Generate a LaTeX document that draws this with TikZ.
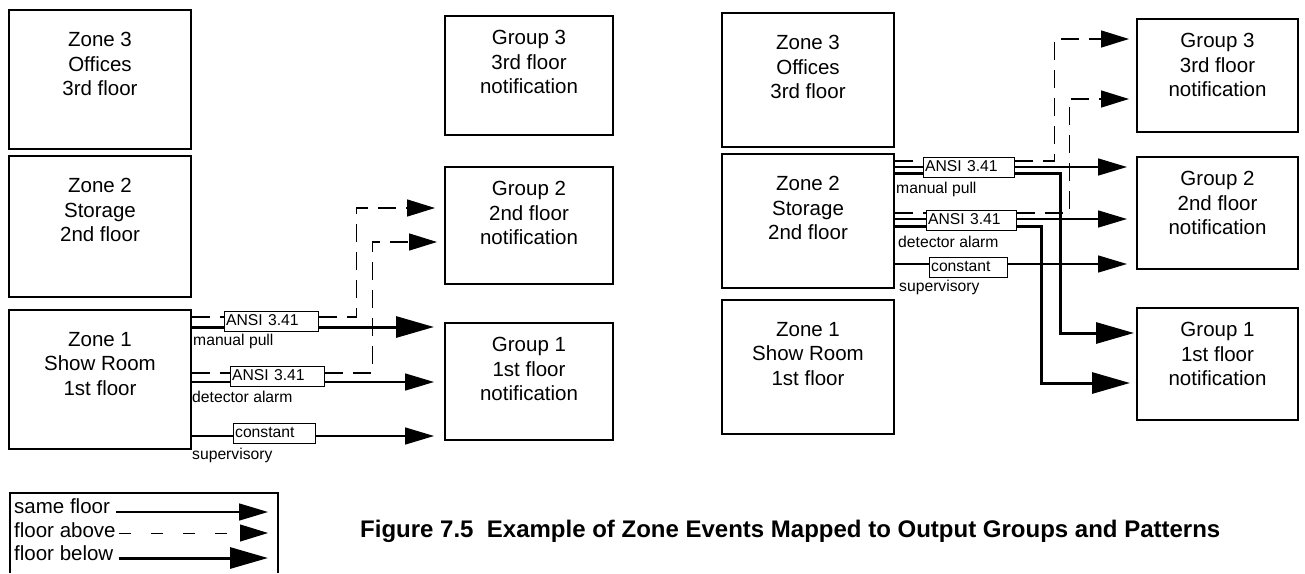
\documentclass[tikz,border=0pt]{standalone}
\usepackage{fontspec}
\setmainfont{Liberation Sans}
\usetikzlibrary{arrows.meta}
\begin{document}
\begin{tikzpicture}[x=1pt,y=-1pt,
  box/.style={draw, line width=2pt, anchor=north west, inner sep=0pt},
  btext/.style={align=center, font=\fontsize{20.5}{24.5}\selectfont, inner sep=0pt},
  ztext/.style={label={[btext,anchor=north,yshift=-23pt]north:{#1}}},
  gtext/.style={label={[btext,anchor=north,yshift=-15pt]north:{#1}}},
  lbl/.style={draw, line width=1.3pt, anchor=north west, inner xsep=1.5pt, inner ysep=0pt,
    text width=#1, align=left, text height=11.5pt, text depth=4pt, minimum height=20pt,
    font=\fontsize{15.7}{18}\selectfont},
  small/.style={anchor=base west, inner sep=0pt, font=\fontsize{15.7}{18}\selectfont},
  legtext/.style={anchor=base west, inner sep=0pt, font=\fontsize{20.5}{24.5}\selectfont},
  thinl/.style={line width=1.5pt},
  thickl/.style={line width=3pt},
  dashl/.style={line width=1.5pt, dash pattern=on 18pt off 10pt},
  thin/.style={thinl, -{Triangle[length=29pt,width=17pt]}},
  thick/.style={thickl, -{Triangle[length=38pt,width=21pt]}},
  fl/.style={dashl, -{Triangle[length=28pt,width=17pt]}}
]
\useasboundingbox (0,0) rectangle (1305,573);

% ---------------- left diagram ----------------
\node[box, minimum width=182pt, minimum height=139pt, ztext={Zone 3\\Offices\\3rd floor}] (lz3) at (8,9) {};
\node[box, minimum width=182pt, minimum height=141pt, ztext={Zone 2\\Storage\\2nd floor}] (lz2) at (8,155) {};
\node[box, minimum width=182pt, minimum height=139pt, ztext={Zone 1\\Show Room\\1st floor}] (lz1) at (8,309) {};

\node[box, minimum width=168pt, minimum height=119pt, gtext={Group 3\\3rd floor\\notification}] (lg3) at (444,15) {};
\node[box, minimum width=168pt, minimum height=117pt, gtext={Group 2\\2nd floor\\notification}] (lg2) at (444,166) {};
\node[box, minimum width=168pt, minimum height=117pt, gtext={Group 1\\1st floor\\notification}] (lg1) at (444,322) {};

\node[lbl=91pt] (la1) at (224,311) {ANSI 3.41};
\node[lbl=91pt] (la2) at (230,366) {ANSI 3.41};
\node[lbl=79pt] (lc) at (233,423) {constant};
\node[small] (lmp) at (193,345) {manual pull};
\node[small] (lda) at (192,402) {detector alarm};
\node[small] (lsv) at (192,459) {supervisory};

\coordinate (lD1) at (0,317);
\coordinate (lT1) at (0,327);
\coordinate (lD2) at (0,373);
\coordinate (lS2) at (0,382);
\coordinate (lS3) at (0,436);
\coordinate (lU1) at (0,208);
\coordinate (lU2) at (0,242);

\draw[dashl] (lz1.east |- lD1) -- (la1.west |- lD1);
\draw[thickl] (lz1.east |- lT1) -- (la1.west |- lT1);
\draw[fl, shorten >=9pt] (la1.east |- lD1) -- ++(37,0) |- (lg2.west |- lU1);
\draw[thick, shorten >=10pt] (la1.east |- lT1) -- (lg1.west |- lT1);

\draw[dashl] (lz1.east |- lD2) -- (la2.west |- lD2);
\draw[thinl] (lz1.east |- lS2) -- (la2.west |- lS2);
\draw[fl, shorten >=7pt] (la2.east |- lD2) -- ++(47,0) |- (lg2.west |- lU2);
\draw[thin, shorten >=10pt] (la2.east |- lS2) -- (lg1.west |- lS2);

\draw[thinl] (lz1.east |- lS3) -- (lc.west |- lS3);
\draw[thin, shorten >=10pt] (lc.east |- lS3) -- (lg1.west |- lS3);

% ---------------- right diagram ----------------
\node[box, minimum width=172pt, minimum height=134pt, ztext={Zone 3\\Offices\\3rd floor}] (rz3) at (721,12) {};
\node[box, minimum width=172pt, minimum height=134pt, ztext={Zone 2\\Storage\\2nd floor}] (rz2) at (721,153) {};
\node[box, minimum width=172pt, minimum height=134pt, ztext={Zone 1\\Show Room\\1st floor}] (rz1) at (721,299) {};

\node[box, minimum width=161pt, minimum height=113pt, gtext={Group 3\\3rd floor\\notification}] (rg3) at (1136,18) {};
\node[box, minimum width=161pt, minimum height=112pt, gtext={Group 2\\2nd floor\\notification}] (rg2) at (1136,156) {};
\node[box, minimum width=161pt, minimum height=112pt, gtext={Group 1\\1st floor\\notification}] (rg1) at (1136,307) {};

\node[lbl=88pt] (ra1) at (923,157) {ANSI 3.41};
\node[lbl=87pt] (ra2) at (926,210) {ANSI 3.41};
\node[lbl=75pt] (rc) at (929,257) {constant};
\node[small] (rmp) at (896,193) {manual pull};
\node[small] (rda) at (898,247) {detector alarm};
\node[small] (rsv) at (899,291) {supervisory};

\coordinate (rD1) at (0,161);
\coordinate (rS1) at (0,167);
\coordinate (rT1) at (0,173);
\coordinate (rD2) at (0,213);
\coordinate (rS2) at (0,219);
\coordinate (rT2) at (0,226);
\coordinate (rS3) at (0,264);
\coordinate (rU1) at (0,39);
\coordinate (rU2) at (0,99);
\coordinate (rB1) at (0,333);
\coordinate (rB2) at (0,383);

\draw[dashl] (rz2.east |- rD1) -- (ra1.west |- rD1);
\draw[thinl] (rz2.east |- rS1) -- (ra1.west |- rS1);
\draw[thickl] (rz2.east |- rT1) -- (ra1.west |- rT1);
\draw[fl, shorten >=7pt] (ra1.east |- rD1) -- ++(39,0) |- (rg3.west |- rU1);
\draw[thin, shorten >=9pt] (ra1.east |- rS1) -- (rg2.west |- rS1);
\draw[thick, shorten >=2pt] (ra1.east |- rT1) -- ++(45,0) |- (rg1.west |- rB1);

\draw[dashl] (rz2.east |- rD2) -- (ra2.west |- rD2);
\draw[thinl] (rz2.east |- rS2) -- (ra2.west |- rS2);
\draw[thickl] (rz2.east |- rT2) -- (ra2.west |- rT2);
\draw[fl, shorten >=7pt] (ra2.east |- rD2) -- ++(52,0) |- (rg3.west |- rU2);
\draw[thin, shorten >=9pt] (ra2.east |- rS2) -- (rg2.west |- rS2);
\draw[thick, shorten >=6pt] (ra2.east |- rT2) -- ++(24,0) |- (rg1.west |- rB2);

\draw[thinl] (rz2.east |- rS3) -- (rc.west |- rS3);
\draw[thin, shorten >=9pt] (rc.east |- rS3) -- (rg2.west |- rS3);

% ---------------- legend ----------------
\draw[line width=2pt] (10,573) -- (10,493) -- (278,493) -- (278,573);
\node[legtext] (ls) at (14,513) {same floor};
\node[legtext] (la) at (14,537) {floor above};
\node[legtext] (lb) at (14,560) {floor below};
\coordinate (ls2) at (268,512);
\coordinate (la2e) at (268,533);
\coordinate (lb2) at (268,558);
\draw[thin] (ls.east |- ls2) ++(6,0) -- (ls2);
\draw[line width=1pt, dash pattern=on 12pt off 20pt, -{Triangle[length=28pt,width=17pt]}] (la.east |- la2e) ++(3,0) -- (la2e);
\draw[thick] (lb.east |- lb2) ++(5,0) -- (lb2);

% ---------------- caption ----------------
\node[anchor=west, inner sep=0pt, font=\bfseries\fontsize{24}{28}\selectfont] (cap) at (360,531)
  {Figure 7.5~~Example of Zone Events Mapped to Output Groups and Patterns};
\end{tikzpicture}
\end{document}
